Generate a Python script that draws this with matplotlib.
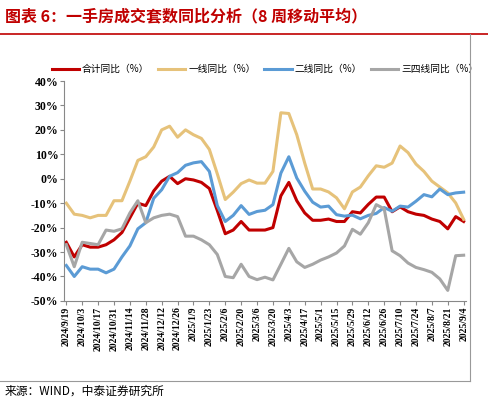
import matplotlib
matplotlib.use("Agg")
import matplotlib.pyplot as plt
import numpy as np

dates = ["2024/9/19","2024/10/3","2024/10/17","2024/10/31","2024/11/14","2024/11/28","2024/12/12","2024/12/26",
         "2025/1/9","2025/1/23","2025/2/6","2025/2/20","2025/3/6","2025/3/20","2025/4/3","2025/4/17","2025/5/1",
         "2025/5/15","2025/5/29","2025/6/12","2025/6/26","2025/7/10","2025/7/24","2025/8/7","2025/8/21","2025/9/4"]
total = [-26,-32,-27,-28,-28,-27,-25,-22,-16,-10,-11,-5,-1,1,-2,0,-0.5,-1.5,-4,-13,-22.5,-21,-17.5,
         -21,-21,-21,-20,-7,-1.5,-9,-14,-17,-17,-16.5,-17.5,-17.5,-13.5,-14,-10.5,-7.5,-7.5,-13.5,-11.5,-13.5,-14.5,-15,-16.5,-17.5,-20.5,-15.5,-17.5]
tier1 = [-10,-14.5,-15,-16,-15,-15,-9,-9,-1,7.5,9,13,20,21.5,17,20,18,16.5,12,2,-8.5,-5.5,-2,
         -0.5,-1.8,-1.8,3,27,26.7,18,6.4,-4.2,-4.2,-5.4,-7.8,-12.3,-5.4,-3.4,1.2,5.3,4.7,6.4,13.4,10.7,6,3,-1,-3.4,-5.8,-9.9,-16.6]
tier2 = [-35.5,-40,-36,-37,-37,-38.5,-37,-32,-27.5,-20.5,-18,-8,-4.5,1,2.5,5.5,6.5,7,3,-11,-17.5,-15,-11,
         -14.6,-13.4,-12.9,-10.6,2.3,9,0.3,-5.1,-9.6,-11.6,-11.2,-14.7,-15.3,-14.9,-16.4,-15,-14.2,-11.8,-13.3,-11.2,-11.6,-9.2,-6.5,-7.4,-4.2,-6.5,-5.8,-5.5]
tier34 = [-27,-36,-26,-26.5,-27,-21,-21.5,-20.5,-14,-9,-18,-16,-15,-14.5,-15.5,-23.5,-23.5,-25,-27,-31,-40,-40.5,-35,
          -40,-41.3,-40.3,-41.4,-35,-28.5,-34,-36.3,-35,-33.3,-32,-30.4,-27.5,-20.7,-22.7,-18,-10.6,-12.3,-29.5,-31.5,-34.5,-36.3,-37.2,-38.3,-41,-45.7,-31.5,-31.3]
names = ["合计同比（%）","一线同比（%）","二线同比（%）","三四线同比（%）"]
colors = ["#C00000","#E6C27A","#5B9BD5","#A6A6A6"]

cjk = ['Noto Sans CJK SC','DejaVu Sans']
fig = plt.figure(figsize=(4.88,4.05), dpi=100)
ax = fig.add_axes([0.131,0.257,0.824,0.543])
x = np.arange(len(total))
for s,n,c in zip([total,tier1,tier2,tier34],names,colors):
    ax.plot(x, s, color=c, lw=2.2, label=n)
ax.set_xlim(-0.3, len(total)-0.7)
ax.set_ylim(-50,40)
ax.set_yticks(range(-50,41,10))
ax.set_yticklabels([f"{v}%" for v in range(-50,41,10)], family='Liberation Serif', fontweight='bold', fontsize=8.5)
ax.set_xticks(np.arange(0,len(total),2))
ax.set_xticklabels(dates, rotation=90, family='Liberation Serif', fontweight='bold', fontsize=7)
for sp in ['top','right']:
    ax.spines[sp].set_visible(False)
ax.spines['left'].set_color('#888888')
ax.spines['bottom'].set_color('#888888')
ax.tick_params(length=3, color='#888888', pad=1)
ax.legend(loc='lower center', bbox_to_anchor=(0.5,1.0), ncol=4, frameon=False, prop={'family':cjk,'size':7},
          handlelength=2.8, columnspacing=0.9, handletextpad=0.3, borderaxespad=0.3)
fig.text(0.01,0.96,"图表 6：一手房成交套数同比分析（8 周移动平均）", family=cjk, color='#C00000', fontsize=11.5, fontweight='bold', style='italic', va='center')
fig.add_artist(plt.Line2D([0.0,1.0],[0.915,0.915], color='#C00000', lw=1.2))
fig.add_artist(plt.Line2D([0.963,0.963],[0.06,0.915], color='#999999', lw=0.8))
fig.add_artist(plt.Line2D([0.0,0.963],[0.06,0.06], color='#999999', lw=0.8))
fig.text(0.01,0.035,"来源：WIND，中泰证券研究所", family=cjk, fontsize=8.5, va='center')
fig.savefig("out.png", dpi=100)
